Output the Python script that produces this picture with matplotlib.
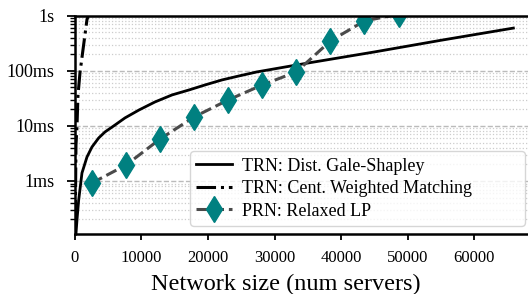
import numpy as np
import matplotlib
matplotlib.use("Agg")
import matplotlib.pyplot as plt
from matplotlib.ticker import FixedLocator, LogLocator, NullFormatter

plt.rcParams['font.family'] = ['Liberation Serif', 'DejaVu Serif']

# Dist. Gale-Shapley (TRN)
gs_n = [150, 300, 556, 1053, 1805, 2556, 3564, 4512, 6016, 7520, 9626,
        12030, 14590, 17150, 19550, 22110, 24670, 27370, 35000, 45000,
        55000, 65900]
gs_t = [0.00011, 0.000195, 0.00045, 0.0014, 0.00273, 0.00415, 0.00605,
        0.00778, 0.0104, 0.014, 0.0195, 0.0273, 0.0366, 0.0451, 0.0556,
        0.0686, 0.0811, 0.096, 0.139, 0.221, 0.36, 0.60]

# Cent. Weighted Matching (TRN)
wm_n = [50, 150, 300, 450, 750, 1200, 1800, 2300]
wm_t = [0.0002, 0.0045, 0.0096, 0.036, 0.092, 0.24, 0.85, 1.3]

# Relaxed LP (PRN)
lp_n = [2560, 7680, 12800, 17920, 23040, 28160, 33280, 38400, 43520, 48640]
lp_t = [0.00092, 0.00195, 0.0058, 0.0146, 0.0297, 0.0556, 0.096, 0.35,
        0.81, 1.07]

ytick_vals = [1e-3, 1e-2, 1e-1, 1]
ytick_labels = ["1ms", "10ms", "100ms", "1s"]
xtick_vals = [0, 10000, 20000, 30000, 40000, 50000, 60000]

fig = plt.figure(figsize=(5.28, 2.94), dpi=100)
ax = fig.add_axes([0.142, 0.204, 0.858, 0.742])

ax.plot(gs_n, gs_t, color='black', lw=2.0, ls='-',
        label="TRN: Dist. Gale-Shapley")
ax.plot(wm_n, wm_t, color='black', lw=2.2, ls='-.',
        label="TRN: Cent. Weighted Matching")
ax.plot(lp_n, lp_t, color='#4a4a4a', lw=2.2, ls='--', marker='d',
        markersize=13, markerfacecolor='#008080', markeredgecolor='#008080',
        label="PRN: Relaxed LP")

ax.set_yscale('log')
ax.set_ylim(1.087e-4, 1)
ax.set_xlim(0, 68100)

ax.yaxis.set_major_locator(FixedLocator(ytick_vals))
ax.set_yticklabels(ytick_labels)
ax.yaxis.set_minor_locator(LogLocator(base=10, subs=np.arange(2, 10)))
ax.yaxis.set_minor_formatter(NullFormatter())
ax.set_xticks(xtick_vals)
ax.set_xticklabels([str(v) for v in xtick_vals])

ax.grid(True, which='major', axis='y', ls='--', color='#bbbbbb', lw=1.0)
ax.grid(True, which='minor', axis='y', ls=':', color='#cccccc', lw=0.9)
ax.set_axisbelow(True)

for s in ['left', 'bottom', 'top']:
    ax.spines[s].set_linewidth(1.8)
ax.spines['right'].set_visible(False)

ax.tick_params(axis='x', which='major', labelsize=12, length=4.5, width=1.3,
               pad=7)
ax.tick_params(axis='y', which='major', labelsize=13, length=6, width=1.3,
               pad=9)
ax.tick_params(axis='y', which='minor', length=3.5, width=1.0)

ax.set_xlabel("Network size (num servers)", fontsize=17.5, labelpad=6,
              x=0.466)

ax.legend(loc='lower left', bbox_to_anchor=(0.254, 0.037, 0.739, 0.3),
          mode='expand', borderaxespad=0,
          fontsize=13, frameon=True, fancybox=True, edgecolor='#cccccc',
          framealpha=0.8, handlelength=2.0, handletextpad=0.5,
          labelspacing=0.3, borderpad=0.35)

fig.savefig("out.png", dpi=100)
